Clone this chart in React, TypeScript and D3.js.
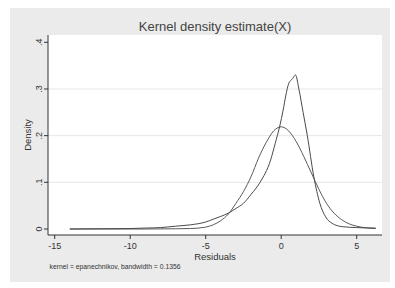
import React from "react";
import * as d3 from "d3";

const kernelX = [-14, -12, -10, -9, -8, -7, -6, -5, -4.5, -4, -3.5, -3, -2.5, -2, -1.4, -0.7, -0.4, -0.1, 0.13, 0.3, 0.5, 0.75, 0.95, 1.17, 1.45, 1.73, 2.16, 2.56, 2.94, 3.38, 4.05, 5, 6.26];
const kernelY = [0, 0.0005, 0.001, 0.002, 0.003, 0.006, 0.009, 0.015, 0.021, 0.027, 0.034, 0.044, 0.055, 0.074, 0.1, 0.148, 0.183, 0.22, 0.255, 0.285, 0.312, 0.322, 0.33, 0.3, 0.25, 0.2, 0.112, 0.055, 0.026, 0.012, 0.005, 0.003, 0.002];

const normalX = [-14, -9, -7, -6, -5, -4.5, -4, -3.5, -3, -2.5, -2, -1.5, -1, -0.5, 0, 0.5, 1, 1.5, 2, 2.5, 3, 3.5, 4, 4.5, 5, 5.5, 6.26];
const normalY = [0, 0, 0.0005, 0.001, 0.004, 0.009, 0.018, 0.032, 0.055, 0.08, 0.112, 0.152, 0.185, 0.21, 0.219, 0.21, 0.187, 0.155, 0.12, 0.085, 0.055, 0.034, 0.02, 0.011, 0.006, 0.003, 0.001];

const xTicks = [-15, -10, -5, 0, 5];
const yTicks = [0, 0.1, 0.2, 0.3, 0.4];
const yTickLabels = ["0", ".1", ".2", ".3", ".4"];
const gridTicks = [0.1, 0.2, 0.3];

const title = "Kernel density estimate(X)";
const xTitle = "Residuals";
const yTitle = "Density";
const note = "kernel = epanechnikov, bandwidth = 0.1356";

export default function App() {
  const W = 395, H = 288;
  const plot = { left: 48, right: 382, top: 35, bottom: 235 };
  const x = d3.scaleLinear().domain([-15, 5]).range([54.7, 356.7]);
  const y = d3.scaleLinear().domain([0, 0.4]).range([229, 42.3]);
  const font = "'Liberation Sans', Arial, sans-serif";

  const kernelPts: [number, number][] = kernelX.map((v, i) => [v, kernelY[i]]);
  const normalPts: [number, number][] = normalX.map((v, i) => [v, normalY[i]]);
  const lineK = d3.line<[number, number]>().x(d => x(d[0])).y(d => y(d[1])).curve(d3.curveMonotoneX);
  const lineN = d3.line<[number, number]>().x(d => x(d[0])).y(d => y(d[1])).curve(d3.curveMonotoneX);

  return (
    <svg width={W} height={H} style={{ position: "absolute", left: 0, top: 0 }} fontFamily={font}>
      <rect x={0} y={0} width={W} height={H} fill="#ffffff" />
      <rect x={10} y={8} width={380} height={274} fill="#ebebeb" />
      <rect x={plot.left} y={plot.top} width={plot.right - plot.left} height={plot.bottom - plot.top} fill="#ffffff" />
      {gridTicks.map(t => (
        <line key={t} x1={plot.left} x2={plot.right} y1={y(t)} y2={y(t)} stroke="#e6e6e6" strokeWidth={1} />
      ))}
      <path d={lineN(normalPts) || ""} fill="none" stroke="#5a5a5a" strokeWidth={1} />
      <path d={lineK(kernelPts) || ""} fill="none" stroke="#4a4a4a" strokeWidth={1} />
      <line x1={plot.left} x2={plot.left} y1={plot.top} y2={plot.bottom} stroke="#333" strokeWidth={1} />
      <line x1={plot.left} x2={plot.right} y1={plot.bottom} y2={plot.bottom} stroke="#333" strokeWidth={1} />
      {yTicks.map((t, i) => (
        <g key={t}>
          <line x1={plot.left - 4} x2={plot.left} y1={y(t)} y2={y(t)} stroke="#333" strokeWidth={1} />
          <text transform={`translate(41.5,${y(t)}) rotate(-90)`} textAnchor="middle" fontSize={9} fill="#333">{yTickLabels[i]}</text>
        </g>
      ))}
      {xTicks.map(t => (
        <g key={t}>
          <line x1={x(t)} x2={x(t)} y1={plot.bottom} y2={plot.bottom + 4} stroke="#333" strokeWidth={1} />
          <text x={x(t)} y={248.5} textAnchor="middle" fontSize={9} fill="#333">{t}</text>
        </g>
      ))}
      <text x={(plot.left + plot.right) / 2} y={30.5} textAnchor="middle" fontSize={13} fill="#444">{title}</text>
      <text x={(plot.left + plot.right) / 2} y={259.5} textAnchor="middle" fontSize={9.5} fill="#333">{xTitle}</text>
      <text transform={`translate(30.5,${(plot.top + plot.bottom) / 2}) rotate(-90)`} textAnchor="middle" fontSize={9.5} fill="#333">{yTitle}</text>
      <text x={49.5} y={269} fontSize={6.8} fill="#333">{note}</text>
    </svg>
  );
}
